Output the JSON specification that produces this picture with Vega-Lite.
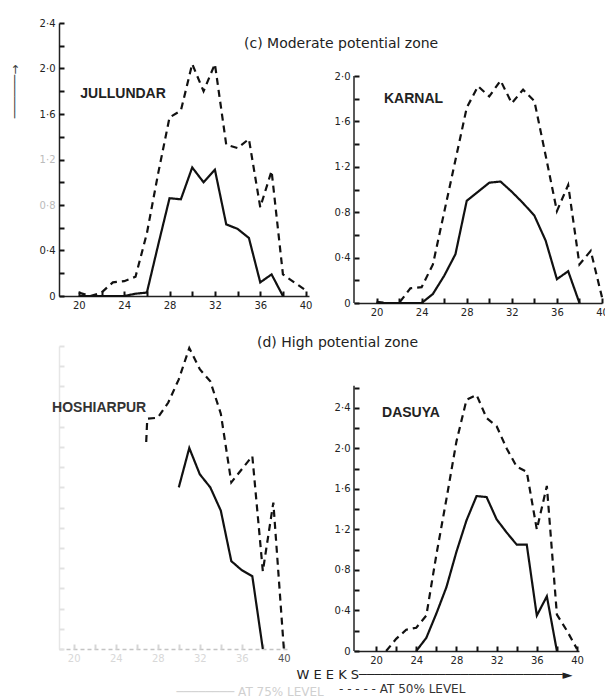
{
  "$schema": "https://vega.github.io/schema/vega-lite/v6.json",
  "padding": {"left": 7, "top": 18, "right": 0, "bottom": 0},
  "background": "white",
  "datasets": {
    "rain": [
      {"station":"JULLUNDAR","level":"AT 50% LEVEL","week":20,"value":0.03},
      {"station":"JULLUNDAR","level":"AT 50% LEVEL","week":21,"value":0},
      {"station":"JULLUNDAR","level":"AT 50% LEVEL","week":22,"value":0.03},
      {"station":"JULLUNDAR","level":"AT 50% LEVEL","week":23,"value":0.12},
      {"station":"JULLUNDAR","level":"AT 50% LEVEL","week":24,"value":0.13},
      {"station":"JULLUNDAR","level":"AT 50% LEVEL","week":25,"value":0.17},
      {"station":"JULLUNDAR","level":"AT 50% LEVEL","week":26,"value":0.55},
      {"station":"JULLUNDAR","level":"AT 50% LEVEL","week":27,"value":1.08},
      {"station":"JULLUNDAR","level":"AT 50% LEVEL","week":28,"value":1.57},
      {"station":"JULLUNDAR","level":"AT 50% LEVEL","week":29,"value":1.63},
      {"station":"JULLUNDAR","level":"AT 50% LEVEL","week":30,"value":2.04},
      {"station":"JULLUNDAR","level":"AT 50% LEVEL","week":31,"value":1.8},
      {"station":"JULLUNDAR","level":"AT 50% LEVEL","week":32,"value":2.04},
      {"station":"JULLUNDAR","level":"AT 50% LEVEL","week":33,"value":1.33},
      {"station":"JULLUNDAR","level":"AT 50% LEVEL","week":34,"value":1.3},
      {"station":"JULLUNDAR","level":"AT 50% LEVEL","week":35,"value":1.38},
      {"station":"JULLUNDAR","level":"AT 50% LEVEL","week":36,"value":0.78},
      {"station":"JULLUNDAR","level":"AT 50% LEVEL","week":37,"value":1.1},
      {"station":"JULLUNDAR","level":"AT 50% LEVEL","week":38,"value":0.19},
      {"station":"JULLUNDAR","level":"AT 50% LEVEL","week":39,"value":0.12},
      {"station":"JULLUNDAR","level":"AT 50% LEVEL","week":40,"value":0.05},
      {"station":"JULLUNDAR","level":"AT 75% LEVEL","week":20,"value":0},
      {"station":"JULLUNDAR","level":"AT 75% LEVEL","week":21,"value":0},
      {"station":"JULLUNDAR","level":"AT 75% LEVEL","week":22,"value":0},
      {"station":"JULLUNDAR","level":"AT 75% LEVEL","week":23,"value":0},
      {"station":"JULLUNDAR","level":"AT 75% LEVEL","week":24,"value":0},
      {"station":"JULLUNDAR","level":"AT 75% LEVEL","week":25,"value":0.02},
      {"station":"JULLUNDAR","level":"AT 75% LEVEL","week":26,"value":0.03},
      {"station":"JULLUNDAR","level":"AT 75% LEVEL","week":27,"value":0.45},
      {"station":"JULLUNDAR","level":"AT 75% LEVEL","week":28,"value":0.86},
      {"station":"JULLUNDAR","level":"AT 75% LEVEL","week":29,"value":0.85},
      {"station":"JULLUNDAR","level":"AT 75% LEVEL","week":30,"value":1.13},
      {"station":"JULLUNDAR","level":"AT 75% LEVEL","week":31,"value":1.0},
      {"station":"JULLUNDAR","level":"AT 75% LEVEL","week":32,"value":1.11},
      {"station":"JULLUNDAR","level":"AT 75% LEVEL","week":33,"value":0.63},
      {"station":"JULLUNDAR","level":"AT 75% LEVEL","week":34,"value":0.59},
      {"station":"JULLUNDAR","level":"AT 75% LEVEL","week":35,"value":0.51},
      {"station":"JULLUNDAR","level":"AT 75% LEVEL","week":36,"value":0.12},
      {"station":"JULLUNDAR","level":"AT 75% LEVEL","week":37,"value":0.19},
      {"station":"JULLUNDAR","level":"AT 75% LEVEL","week":38,"value":0},
      {"station":"KARNAL","level":"AT 50% LEVEL","week":20,"value":0.01},
      {"station":"KARNAL","level":"AT 50% LEVEL","week":21,"value":0},
      {"station":"KARNAL","level":"AT 50% LEVEL","week":22,"value":0},
      {"station":"KARNAL","level":"AT 50% LEVEL","week":23,"value":0.13},
      {"station":"KARNAL","level":"AT 50% LEVEL","week":24,"value":0.14},
      {"station":"KARNAL","level":"AT 50% LEVEL","week":25,"value":0.34},
      {"station":"KARNAL","level":"AT 50% LEVEL","week":26,"value":0.8},
      {"station":"KARNAL","level":"AT 50% LEVEL","week":27,"value":1.26},
      {"station":"KARNAL","level":"AT 50% LEVEL","week":28,"value":1.72},
      {"station":"KARNAL","level":"AT 50% LEVEL","week":29,"value":1.91},
      {"station":"KARNAL","level":"AT 50% LEVEL","week":30,"value":1.82},
      {"station":"KARNAL","level":"AT 50% LEVEL","week":31,"value":1.96},
      {"station":"KARNAL","level":"AT 50% LEVEL","week":32,"value":1.76},
      {"station":"KARNAL","level":"AT 50% LEVEL","week":33,"value":1.88},
      {"station":"KARNAL","level":"AT 50% LEVEL","week":34,"value":1.78},
      {"station":"KARNAL","level":"AT 50% LEVEL","week":35,"value":1.3},
      {"station":"KARNAL","level":"AT 50% LEVEL","week":36,"value":0.81},
      {"station":"KARNAL","level":"AT 50% LEVEL","week":37,"value":1.04},
      {"station":"KARNAL","level":"AT 50% LEVEL","week":38,"value":0.34},
      {"station":"KARNAL","level":"AT 50% LEVEL","week":39,"value":0.46},
      {"station":"KARNAL","level":"AT 50% LEVEL","week":40,"value":0.05},
      {"station":"KARNAL","level":"AT 75% LEVEL","week":20,"value":0},
      {"station":"KARNAL","level":"AT 75% LEVEL","week":21,"value":0},
      {"station":"KARNAL","level":"AT 75% LEVEL","week":22,"value":0},
      {"station":"KARNAL","level":"AT 75% LEVEL","week":23,"value":0},
      {"station":"KARNAL","level":"AT 75% LEVEL","week":24,"value":0},
      {"station":"KARNAL","level":"AT 75% LEVEL","week":25,"value":0.08},
      {"station":"KARNAL","level":"AT 75% LEVEL","week":26,"value":0.24},
      {"station":"KARNAL","level":"AT 75% LEVEL","week":27,"value":0.43},
      {"station":"KARNAL","level":"AT 75% LEVEL","week":28,"value":0.9},
      {"station":"KARNAL","level":"AT 75% LEVEL","week":29,"value":0.98},
      {"station":"KARNAL","level":"AT 75% LEVEL","week":30,"value":1.06},
      {"station":"KARNAL","level":"AT 75% LEVEL","week":31,"value":1.07},
      {"station":"KARNAL","level":"AT 75% LEVEL","week":32,"value":0.98},
      {"station":"KARNAL","level":"AT 75% LEVEL","week":33,"value":0.88},
      {"station":"KARNAL","level":"AT 75% LEVEL","week":34,"value":0.77},
      {"station":"KARNAL","level":"AT 75% LEVEL","week":35,"value":0.55},
      {"station":"KARNAL","level":"AT 75% LEVEL","week":36,"value":0.21},
      {"station":"KARNAL","level":"AT 75% LEVEL","week":37,"value":0.28},
      {"station":"KARNAL","level":"AT 75% LEVEL","week":38,"value":0},
      {"station":"HOSHIARPUR","level":"AT 50% LEVEL","week":26.9,"value":2.05},
      {"station":"HOSHIARPUR","level":"AT 50% LEVEL","week":27,"value":2.28},
      {"station":"HOSHIARPUR","level":"AT 50% LEVEL","week":28,"value":2.29},
      {"station":"HOSHIARPUR","level":"AT 50% LEVEL","week":29,"value":2.44},
      {"station":"HOSHIARPUR","level":"AT 50% LEVEL","week":30,"value":2.67},
      {"station":"HOSHIARPUR","level":"AT 50% LEVEL","week":31,"value":2.98},
      {"station":"HOSHIARPUR","level":"AT 50% LEVEL","week":32,"value":2.77},
      {"station":"HOSHIARPUR","level":"AT 50% LEVEL","week":33,"value":2.65},
      {"station":"HOSHIARPUR","level":"AT 50% LEVEL","week":34,"value":2.33},
      {"station":"HOSHIARPUR","level":"AT 50% LEVEL","week":35,"value":1.65},
      {"station":"HOSHIARPUR","level":"AT 50% LEVEL","week":36,"value":1.78},
      {"station":"HOSHIARPUR","level":"AT 50% LEVEL","week":37,"value":1.91},
      {"station":"HOSHIARPUR","level":"AT 50% LEVEL","week":38,"value":0.77},
      {"station":"HOSHIARPUR","level":"AT 50% LEVEL","week":39,"value":1.45},
      {"station":"HOSHIARPUR","level":"AT 50% LEVEL","week":40,"value":0},
      {"station":"HOSHIARPUR","level":"AT 75% LEVEL","week":30,"value":1.6},
      {"station":"HOSHIARPUR","level":"AT 75% LEVEL","week":31,"value":1.99},
      {"station":"HOSHIARPUR","level":"AT 75% LEVEL","week":32,"value":1.73},
      {"station":"HOSHIARPUR","level":"AT 75% LEVEL","week":33,"value":1.6},
      {"station":"HOSHIARPUR","level":"AT 75% LEVEL","week":34,"value":1.37},
      {"station":"HOSHIARPUR","level":"AT 75% LEVEL","week":35,"value":0.87},
      {"station":"HOSHIARPUR","level":"AT 75% LEVEL","week":36,"value":0.78},
      {"station":"HOSHIARPUR","level":"AT 75% LEVEL","week":37,"value":0.72},
      {"station":"HOSHIARPUR","level":"AT 75% LEVEL","week":38,"value":0},
      {"station":"DASUYA","level":"AT 50% LEVEL","week":21,"value":0},
      {"station":"DASUYA","level":"AT 50% LEVEL","week":22,"value":0.12},
      {"station":"DASUYA","level":"AT 50% LEVEL","week":23,"value":0.21},
      {"station":"DASUYA","level":"AT 50% LEVEL","week":24,"value":0.23},
      {"station":"DASUYA","level":"AT 50% LEVEL","week":25,"value":0.35},
      {"station":"DASUYA","level":"AT 50% LEVEL","week":26,"value":0.95},
      {"station":"DASUYA","level":"AT 50% LEVEL","week":27,"value":1.5},
      {"station":"DASUYA","level":"AT 50% LEVEL","week":28,"value":2.07},
      {"station":"DASUYA","level":"AT 50% LEVEL","week":29,"value":2.48},
      {"station":"DASUYA","level":"AT 50% LEVEL","week":30,"value":2.53},
      {"station":"DASUYA","level":"AT 50% LEVEL","week":31,"value":2.3},
      {"station":"DASUYA","level":"AT 50% LEVEL","week":32,"value":2.22},
      {"station":"DASUYA","level":"AT 50% LEVEL","week":33,"value":2.0},
      {"station":"DASUYA","level":"AT 50% LEVEL","week":34,"value":1.82},
      {"station":"DASUYA","level":"AT 50% LEVEL","week":35,"value":1.77},
      {"station":"DASUYA","level":"AT 50% LEVEL","week":36,"value":1.2},
      {"station":"DASUYA","level":"AT 50% LEVEL","week":37,"value":1.63},
      {"station":"DASUYA","level":"AT 50% LEVEL","week":38,"value":0.36},
      {"station":"DASUYA","level":"AT 50% LEVEL","week":39,"value":0.2},
      {"station":"DASUYA","level":"AT 50% LEVEL","week":40,"value":0.02},
      {"station":"DASUYA","level":"AT 75% LEVEL","week":24,"value":0},
      {"station":"DASUYA","level":"AT 75% LEVEL","week":25,"value":0.13},
      {"station":"DASUYA","level":"AT 75% LEVEL","week":26,"value":0.37},
      {"station":"DASUYA","level":"AT 75% LEVEL","week":27,"value":0.63},
      {"station":"DASUYA","level":"AT 75% LEVEL","week":28,"value":0.98},
      {"station":"DASUYA","level":"AT 75% LEVEL","week":29,"value":1.29},
      {"station":"DASUYA","level":"AT 75% LEVEL","week":30,"value":1.53},
      {"station":"DASUYA","level":"AT 75% LEVEL","week":31,"value":1.52},
      {"station":"DASUYA","level":"AT 75% LEVEL","week":32,"value":1.3},
      {"station":"DASUYA","level":"AT 75% LEVEL","week":33,"value":1.17},
      {"station":"DASUYA","level":"AT 75% LEVEL","week":34,"value":1.05},
      {"station":"DASUYA","level":"AT 75% LEVEL","week":35,"value":1.05},
      {"station":"DASUYA","level":"AT 75% LEVEL","week":36,"value":0.35},
      {"station":"DASUYA","level":"AT 75% LEVEL","week":37,"value":0.54},
      {"station":"DASUYA","level":"AT 75% LEVEL","week":38,"value":0}
    ]
  },
  "bounds": "flush",
  "columns": 2,
  "spacing": {"row": 43, "column": 45},
  "concat": [
    {
      "width": 250,
      "height": 273,
      "title": {"text": "(c) Moderate potential zone", "anchor": "start", "frame": "group", "dx": 185, "offset": -33},
      "resolve": {"axis": {"x": "independent", "y": "independent"}},
      "layer": [
        {
          "data": {"name": "rain"},
          "transform": [{"filter": "datum.station == 'JULLUNDAR'"}],
          "mark": {"type": "line", "color": "#111", "strokeWidth": 2.2},
          "encoding": {
            "x": {"field": "week", "type": "quantitative", "scale": {"domain": [18.25, 40.3], "nice": false, "zero": false},
              "axis": {"values": [20,24,28,32,36,40], "title": null, "ticks": false}},
            "y": {"field": "value", "type": "quantitative", "scale": {"domain": [0, 2.4], "nice": false},
              "axis": {"values": [0,0.4,0.8,1.2,1.6,2,2.4], "ticks": false,
                "labelExpr": "datum.value == 0 ? '0' : replace(format(datum.value, '.1f'), '.', '·')",
                "labelColor": {"expr": "(round(datum.value*10) == 8 || round(datum.value*10) == 12) ? '#bbbbbb' : '#222222'"},
                "title": "──────→", "titleX": -45, "titleY": 68, "titleAlign": "center", "titleBaseline": "middle", "titleFontSize": 12, "titleColor": "#444"}},
            "strokeDash": {"field": "level", "type": "nominal", "scale": {"domain": ["AT 75% LEVEL", "AT 50% LEVEL"], "range": [[1, 0], [7, 5]]}, "legend": null}
          }
        },
        {
          "data": {"name": "rain"},
          "transform": [{"filter": "datum.station == 'JULLUNDAR'"}],
          "mark": {"type": "point", "opacity": 0},
          "encoding": {
            "x": {"field": "week", "type": "quantitative",
              "axis": {"orient": "top", "offset": -273, "labels": false, "domain": false, "ticks": true, "tickSize": 5, "tickWidth": 2, "tickColor": "#111", "values": [20,22,24,26,28,30,32,34,36,38,40], "title": null}},
            "y": {"field": "value", "type": "quantitative",
              "axis": {"orient": "right", "offset": -250, "labels": false, "domain": false, "ticks": true, "tickSize": 5, "tickWidth": 2, "tickColor": "#111", "values": [0,0.2,0.4,0.6,0.8,1,1.2,1.4,1.6,1.8,2,2.2,2.4], "title": null}}
          }
        },
        {
          "data": {"values": [{"name": "JULLUNDAR"}]},
          "mark": {"type": "text", "font": "Liberation Sans", "fontWeight": "bold", "fontSize": 14, "color": "#222"},
          "encoding": {"text": {"field": "name"}, "x": {"datum": 23.9, "axis": null}, "y": {"datum": 1.78, "axis": null}}
        }
      ]
    },
    {
      "width": 248,
      "height": 280,
      "resolve": {"axis": {"x": "independent", "y": "independent"}},
      "layer": [
        {
          "data": {"name": "rain"},
          "transform": [{"filter": "datum.station == 'KARNAL'"}],
          "mark": {"type": "line", "color": "#111", "strokeWidth": 2.2},
          "encoding": {
            "x": {"field": "week", "type": "quantitative", "scale": {"domain": [18, 40], "nice": false, "zero": false},
              "axis": {"values": [20,24,28,32,36,40], "title": null, "ticks": false}},
            "y": {"field": "value", "type": "quantitative", "scale": {"domain": [0, 2.467], "nice": false},
              "axis": {"values": [0,0.4,0.8,1.2,1.6,2], "domain": false, "ticks": false,
                "labelExpr": "datum.value == 0 ? '0' : replace(format(datum.value, '.1f'), '.', '·')",
                "title": null}},
            "strokeDash": {"field": "level", "type": "nominal", "scale": {"domain": ["AT 75% LEVEL", "AT 50% LEVEL"], "range": [[1, 0], [7, 5]]}, "legend": null}
          }
        },
        {
          "data": {"name": "rain"},
          "transform": [{"filter": "datum.station == 'KARNAL'"}],
          "mark": {"type": "point", "opacity": 0},
          "encoding": {
            "x": {"field": "week", "type": "quantitative",
              "axis": {"orient": "top", "offset": -280, "labels": false, "domain": false, "ticks": true, "tickSize": 5, "tickWidth": 2, "tickColor": "#111", "values": [20,22,24,26,28,30,32,34,36,38,40], "title": null}},
            "y": {"field": "value", "type": "quantitative",
              "axis": {"orient": "right", "offset": -248, "labels": false, "domain": false, "ticks": true, "tickSize": 5, "tickWidth": 2, "tickColor": "#111", "values": [0,0.2,0.4,0.6,0.8,1,1.2,1.4,1.6,1.8,2], "title": null}}
          }
        },
        {
          "data": {"values": [{}]},
          "mark": {"type": "rule", "color": "#222", "strokeWidth": 1.5},
          "encoding": {"x": {"datum": 18, "axis": null}, "y": {"datum": 0, "axis": null}, "y2": {"datum": 2.0}}
        },
        {
          "data": {"values": [{"name": "KARNAL"}]},
          "mark": {"type": "text", "font": "Liberation Sans", "fontWeight": "bold", "fontSize": 14, "color": "#222"},
          "encoding": {"text": {"field": "name"}, "x": {"datum": 23.28, "axis": null}, "y": {"datum": 1.8, "axis": null}}
        }
      ]
    },
    {
      "width": 228,
      "height": 303,
      "title": {"text": "(d) High potential zone", "anchor": "start", "frame": "group", "dx": 198, "offset": -6},
      "resolve": {"axis": {"x": "independent", "y": "independent"}},
      "layer": [
        {
          "data": {"name": "rain"},
          "transform": [{"filter": "datum.station == 'HOSHIARPUR'"}],
          "mark": {"type": "line", "color": "#111", "strokeWidth": 2.2},
          "encoding": {
            "x": {"field": "week", "type": "quantitative", "scale": {"domain": [18.6, 40.3], "nice": false, "zero": false},
              "axis": {"values": [20,24,28,32,36,40], "ticks": false,
                "labelColor": {"expr": "datum.value == 40 ? '#555555' : '#d8d8d8'"},
                "domainColor": "#c4c4c4", "domainDash": [4, 3],
                "title": "──────── AT 75% LEVEL", "titleX": 117, "titleY": 42, "titleAlign": "left", "titleBaseline": "middle", "titleFontSize": 12, "titleColor": "#d0d0d0"}},
            "y": {"field": "value", "type": "quantitative", "scale": {"domain": [0, 3.0], "nice": false},
              "axis": {"values": [0,0.4,0.8,1.2,1.6,2,2.4,2.8], "labels": false, "ticks": false, "domainColor": "#e6e6e6", "title": null}},
            "strokeDash": {"field": "level", "type": "nominal", "scale": {"domain": ["AT 75% LEVEL", "AT 50% LEVEL"], "range": [[1, 0], [7, 5]]}, "legend": null}
          }
        },
        {
          "data": {"name": "rain"},
          "transform": [{"filter": "datum.station == 'HOSHIARPUR'"}],
          "mark": {"type": "point", "opacity": 0},
          "encoding": {
            "x": {"field": "week", "type": "quantitative",
              "axis": {"orient": "top", "offset": -303, "labels": false, "domain": false, "ticks": true, "tickSize": 5, "tickWidth": 2, "tickColor": "#d6d6d6", "values": [20,22,24,26,28,30,32,34,36,38,40], "title": null}},
            "y": {"field": "value", "type": "quantitative",
              "axis": {"orient": "right", "offset": -228, "labels": false, "domain": false, "ticks": true, "tickSize": 5, "tickWidth": 2, "tickColor": "#e2e2e2", "values": [0,0.2,0.4,0.6,0.8,1,1.2,1.4,1.6,1.8,2,2.2,2.4,2.6,2.8,3.0], "title": null}}
          }
        },
        {
          "data": {"values": [{"name": "HOSHIARPUR"}]},
          "mark": {"type": "text", "font": "Liberation Sans", "fontWeight": "bold", "fontSize": 14, "color": "#333", "align": "right"},
          "encoding": {"text": {"field": "name"}, "x": {"datum": 26.9, "axis": null}, "y": {"datum": 2.39, "axis": null}}
        }
      ]
    },
    {
      "width": 225,
      "height": 305,
      "title": {"text": "- - - - - AT 50% LEVEL", "orient": "bottom", "anchor": "start", "frame": "group", "dx": -15, "offset": 3, "fontSize": 12, "color": "#333"},
      "resolve": {"axis": {"x": "independent", "y": "independent"}},
      "layer": [
        {
          "data": {"name": "rain"},
          "transform": [{"filter": "datum.station == 'DASUYA'"}],
          "mark": {"type": "line", "color": "#111", "strokeWidth": 2.2},
          "encoding": {
            "x": {"field": "week", "type": "quantitative", "scale": {"domain": [17.8, 40.2], "nice": false, "zero": false},
              "axis": {"values": [20,24,28,32,36,40], "ticks": false,
                "title": "W E E K S──────────────────────────►", "titleX": -58, "titleY": 23, "titleAlign": "left", "titleBaseline": "middle", "titleFontSize": 13, "titleColor": "#222"}},
            "y": {"field": "value", "type": "quantitative", "scale": {"domain": [0, 3.012], "nice": false},
              "axis": {"values": [0,0.4,0.8,1.2,1.6,2,2.4], "domain": false, "ticks": false,
                "labelExpr": "datum.value == 0 ? '0' : replace(format(datum.value, '.1f'), '.', '·')",
                "title": null}},
            "strokeDash": {"field": "level", "type": "nominal", "scale": {"domain": ["AT 75% LEVEL", "AT 50% LEVEL"], "range": [[1, 0], [7, 5]]}, "legend": null}
          }
        },
        {
          "data": {"name": "rain"},
          "transform": [{"filter": "datum.station == 'DASUYA'"}],
          "mark": {"type": "point", "opacity": 0},
          "encoding": {
            "x": {"field": "week", "type": "quantitative",
              "axis": {"orient": "top", "offset": -305, "labels": false, "domain": false, "ticks": true, "tickSize": 5, "tickWidth": 2, "tickColor": "#111", "values": [20,22,24,26,28,30,32,34,36,38,40], "title": null}},
            "y": {"field": "value", "type": "quantitative",
              "axis": {"orient": "right", "offset": -225, "labels": false, "domain": false, "ticks": true, "tickSize": 5, "tickWidth": 2, "tickColor": "#111", "values": [0,0.2,0.4,0.6,0.8,1,1.2,1.4,1.6,1.8,2,2.2,2.4,2.6], "title": null}}
          }
        },
        {
          "data": {"values": [{}]},
          "mark": {"type": "rule", "color": "#222", "strokeWidth": 1.5},
          "encoding": {"x": {"datum": 17.8, "axis": null}, "y": {"datum": 0, "axis": null}, "y2": {"datum": 2.62}}
        },
        {
          "data": {"values": [{"name": "DASUYA"}]},
          "mark": {"type": "text", "font": "Liberation Sans", "fontWeight": "bold", "fontSize": 14, "color": "#222"},
          "encoding": {"text": {"field": "name"}, "x": {"datum": 23.47, "axis": null}, "y": {"datum": 2.35, "axis": null}}
        }
      ]
    }
  ],
  "config": {
    "view": {"stroke": null},
    "font": "DejaVu Sans",
    "axis": {"grid": false, "labelPadding": 4, "domainColor": "#222", "labelColor": "#222",
      "labelFont": "DejaVu Sans", "labelFontSize": 10, "labelFlush": false, "labelOverlap": false, "domainWidth": 1.5,
      "titleFont": "DejaVu Sans", "titleFontWeight": "normal"},
    "title": {"font": "DejaVu Sans", "fontWeight": "normal", "fontSize": 14, "color": "#222"}
  }
}
